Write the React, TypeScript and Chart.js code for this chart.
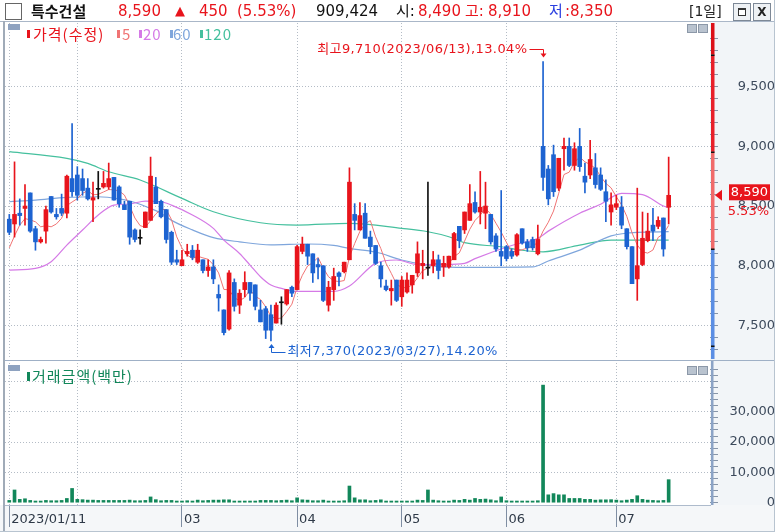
import React, { useEffect, useRef } from 'react';
import { Chart, registerables } from 'chart.js';

Chart.register(...registerables);

// ---------------- data ----------------
const stockName = '특수건설';
const lastPrice = '8,590';
const changeAbs = '450';
const changePct = '(5.53%)';
const volumeShares = '909,424';
const dayOpen = '8,490';
const dayHigh = '8,910';
const dayLow = '8,350';
const periodLabel = '[1일]';

const opens = [8390,8350,8440,8480,8610,8310,8200,8290,8580,8430,
8480,8440,8730,8760,8730,8650,8550,8640,8660,8660,
8740,8660,8510,8540,8300,8230,8320,8380,8660,8540,
8470,8280,8050,8000,8100,8130,8030,8050,7960,7990,
7760,7630,7470,7860,7670,7800,7860,7840,7630,7640,
7590,7520,7690,7680,7820,7800,8120,8180,8100,8010,
8000,7670,7800,7940,7950,8050,8430,8300,8440,8240,
8170,8000,7830,7790,7880,7740,7780,7840,7940,8000,
7980,8000,8050,7990,7990,8050,8330,8300,8380,8530,
8450,8440,8430,8250,8120,8160,8120,8090,8310,8200,
8220,8100,9000,8810,8930,8650,8980,9000,8840,9000,
8750,8760,8820,8760,8620,8450,8490,8490,8310,8160,
7890,8010,8210,8340,8330,8400,8490];

const highs = [8430,8870,8560,8680,8610,8330,8240,8500,8580,8480,
8600,8760,9190,8830,8810,8730,8700,8790,8790,8860,
8740,8670,8540,8540,8310,8300,8450,8910,8740,8550,
8470,8290,8130,8130,8180,8170,8180,8050,8050,8050,
7840,7630,7960,7890,7800,7950,7860,7840,7710,7660,
7670,7690,7740,7800,7830,8170,8240,8180,8100,8060,
8000,7870,7980,7950,8030,8820,8520,8530,8520,8290,
8170,8030,7880,7880,7880,7910,7940,7920,8200,8130,
8700,8120,8090,8080,8080,8280,8330,8450,8680,8620,
8790,8700,8430,8270,8630,8170,8140,8270,8310,8220,
8240,8340,9710,8840,9010,8900,9070,9070,9030,9150,
8860,9050,8940,8820,8720,8610,8590,8580,8310,8160,
8650,8450,8440,8480,8410,8400,8910];

const lows = [8260,8240,8340,8340,8280,8130,8190,8190,8440,8390,
8420,8400,8580,8550,8590,8550,8370,8560,8650,8640,
8550,8490,8470,8180,8200,8180,8320,8380,8520,8400,
8190,8010,8010,8000,8080,8050,8020,7940,7910,7850,
7620,7420,7460,7620,7600,7740,7710,7630,7530,7390,
7370,7520,7510,7670,7740,7800,8100,8010,7860,7890,
7700,7620,7710,7830,7940,8050,8300,8300,8230,8100,
8010,7820,7790,7670,7700,7660,7770,7770,7910,7890,
7920,7940,7890,7910,7980,8050,8150,8270,8380,8440,
8350,8310,8180,8120,8000,8040,8060,8080,8180,8120,
8130,8090,8630,8510,8580,8630,8800,8830,8800,8790,
8610,8730,8650,8630,8370,8340,8470,8310,8140,7850,
7710,8000,8200,8210,8310,8080,8350];

const closes = [8280,8430,8420,8500,8290,8200,8220,8470,8450,8410,
8440,8750,8620,8590,8630,8560,8570,8640,8690,8730,
8550,8520,8470,8240,8220,8230,8450,8750,8520,8410,
8220,8030,8030,8050,8120,8070,8130,7960,7990,7890,
7730,7440,7940,7660,7770,7860,7770,7660,7530,7460,
7460,7670,7690,7800,7770,8160,8180,8080,7940,7990,
7710,7820,7910,7910,8030,8700,8380,8420,8230,8160,
8020,7890,7800,7810,7710,7880,7880,7920,8100,8020,
7980,8050,7960,8020,8080,8270,8210,8450,8520,8450,
8490,8500,8200,8140,8080,8060,8080,8260,8190,8150,
8150,8220,8740,8560,8620,8900,9000,8840,8980,8830,
8700,8890,8680,8640,8540,8510,8520,8340,8160,7850,
8000,8230,8290,8290,8380,8140,8590];

// 거래금액 (백만)
const tradeValue = [750,4200,1100,1300,750,550,550,750,650,650,
750,1400,4700,1100,1000,850,850,750,750,750,
750,750,750,850,650,650,750,1900,1000,650,
750,750,550,550,650,550,850,650,750,850,
850,950,950,550,550,550,550,550,750,750,
750,650,750,850,650,1600,950,850,650,650,
850,550,550,550,650,5500,1600,950,950,650,
750,950,550,550,550,550,550,550,850,750,
4200,850,650,550,550,850,750,1100,850,1400,
1100,1200,950,650,1900,650,550,550,550,550,
550,650,38800,2600,3000,2600,2600,1400,1400,1400,
1100,1100,850,950,950,1000,850,650,850,1100,
2300,1100,850,750,650,750,7600];

// moving averages (index, value)
const ma5Head = [8150, 8250, 8340, 8395];
const ma20Idx = [0,5,8,11,14,17,20,23,26,29,31,35,39,41,44,46,48,50,52,55,62,65,70,74,78,83,87,89,96,101,103,109,113,117,121,125,126];
const ma20Val = [7964,7978,8034,8173,8299,8425,8508,8517,8542,8536,8508,8425,8313,8215,8103,8006,7908,7838,7810,7785,7785,7830,8020,8048,8010,8011,8020,8060,8170,8230,8290,8440,8515,8606,8595,8500,8485];
const ma60Idx = [0,5,11,17,21,24,27,29,31,35,39,44,50,57,62,65,70,75,78,82,87,100,103,109,115,120,126];
const ma60Val = [8536,8550,8572,8578,8560,8530,8480,8440,8380,8300,8235,8200,8175,8182,8170,8145,8115,8048,8020,7992,7986,7990,8040,8131,8250,8280,8285];
const ma120Idx = [0,11,15,19,25,33,39,48,55,65,75,80,84,87,94,98,102,109,115,126];
const ma120Val = [8955,8899,8857,8787,8718,8564,8452,8360,8341,8355,8313,8285,8243,8193,8159,8130,8117,8173,8215,8215];

const monthTickIdx = [0, 13, 33, 55, 75, 95, 116];
const monthTickLabels = ['2023/01/11', '', '03', '04', '05', '06', '07'];
const priceTickLabels = [7500, 8000, 8500, 9000, 9500];
const priceMinorStep = 100;
const volTickLabels = [0, 10000, 20000, 30000];
const volGridValues = [10000, 20000, 30000, 40000];
const volMinorStep = 2000;

const prevClose = 8140;
const limitSteps = [-0.1, 0, 0.1, 0.2];
const highIdx = 102;
const lowIdx = 50;
const highText = '최고9,710(2023/06/13),13.04%';
const lowText = '최저7,370(2023/03/27),14.20%';
const lastPctText = '5.53%';

// ---------------- style ----------------
const UP = '#e8141c';
const DOWN = '#1d63d1';
const FLAT = '#111111';
const C5 = '#f07474';
const C20 = '#d57ae6';
const C60 = '#7fa6dc';
const C120 = '#45c09e';
const VOL = '#12875a';
const GRID = '#b4bcc6';
const TICK = '#8795a8';
const LABEL = '#3d4a5c';
const TRANSP = 'rgba(0,0,0,0)';

const X_MIN = -0.82;
const X_MAX = 133.9;
const Y_MIN = 7219;
const Y_MAX = 10033;
const V_MIN = -760;
const V_MAX = 46100;
const PLOT_RIGHT = 710;
const LABEL_RIGHT = 768;
const TICK_LEN = 8;

const fmt = (n: number) => String(n).replace(/\B(?=(\d{3})+(?!\d))/g, ',');

function stepTicks(lo: number, hi: number, step: number) {
  const out: { value: number }[] = [];
  for (let v = Math.ceil(lo / step) * step; v <= hi; v += step) out.push({ value: v });
  return out;
}

function measure(text: string, font: string) {
  const c = document.createElement('canvas').getContext('2d') as CanvasRenderingContext2D;
  c.font = font;
  return c.measureText(text).width;
}

const pricePlugin = {
  id: 'priceDecor',
  afterDraw(chart: any) {
    const { ctx, chartArea } = chart;
    const xs = chart.scales.x;
    const ys = chart.scales.y;
    const py = (v: number) => ys.getPixelForValue(v);
    ctx.save();
    // colored axis bar
    const bx = chartArea.right + 1;
    const bw = 3.5;
    const edges = limitSteps.map((r) => prevClose * (1 + r));
    const segs: [number, number, string][] = [
      [chartArea.top, py(edges[3]), '#dc1018'],
      [py(edges[3]), py(edges[2]), '#e8202a'],
      [py(edges[2]), py(edges[1]), '#f06a6a'],
      [py(edges[1]), chartArea.bottom, '#5b8ee4'],
    ];
    segs.forEach(([a, b, c]) => {
      ctx.fillStyle = c;
      ctx.fillRect(bx, a, bw, b - a);
    });
    ctx.fillStyle = '#111';
    edges.forEach((v) => {
      const p = Math.round(py(v));
      ctx.fillRect(bx, p - 0.5, bw, 1.5);
    });

    // current price marker
    const last = closes.length - 1;
    const cy = py(closes[last]);
    const r = chartArea.right;
    ctx.fillStyle = UP;
    ctx.beginPath();
    ctx.moveTo(r + 5, cy);
    ctx.lineTo(r + 12, cy - 5.5);
    ctx.lineTo(r + 12, cy + 5.5);
    ctx.closePath();
    ctx.fill();
    ctx.fillRect(r + 19, cy - 11, 41, 16);
    ctx.font = '13px DejaVu Sans';
    ctx.textAlign = 'right';
    ctx.textBaseline = 'middle';
    ctx.fillStyle = '#ffffff';
    ctx.fillText(fmt(closes[last]), LABEL_RIGHT, cy - 3);
    ctx.fillStyle = UP;
    ctx.fillText(lastPctText, LABEL_RIGHT + 1, cy + 16);

    // high annotation
    const annFont = '13px DejaVu Sans, Noto Sans CJK KR, sans-serif';
    const hx = Math.round(xs.getPixelForValue(highIdx)) + 0.5;
    const hy = py(highs[highIdx]);
    ctx.font = annFont;
    try {
      (ctx as any).letterSpacing = '0.4px';
    } catch (e) {
      /* ignore */
    }
    ctx.fillStyle = UP;
    ctx.strokeStyle = UP;
    ctx.lineWidth = 1;
    ctx.textAlign = 'right';
    ctx.fillText(highText, hx - 16, hy - 12);
    const hl = Math.round(hy - 13) + 0.5;
    ctx.beginPath();
    ctx.moveTo(hx - 14, hl);
    ctx.lineTo(hx, hl);
    ctx.lineTo(hx, hy - 7);
    ctx.stroke();
    ctx.beginPath();
    ctx.moveTo(hx - 3, hy - 8);
    ctx.lineTo(hx + 3, hy - 8);
    ctx.lineTo(hx, hy - 4);
    ctx.closePath();
    ctx.fill();

    // low annotation
    const lx = Math.round(xs.getPixelForValue(lowIdx)) + 0.5;
    const ly = py(lows[lowIdx]);
    ctx.fillStyle = DOWN;
    ctx.strokeStyle = DOWN;
    ctx.textAlign = 'left';
    ctx.fillText(lowText, lx + 16, ly + 11);
    const ll = Math.round(ly + 11) + 0.5;
    ctx.beginPath();
    ctx.moveTo(lx, ly + 6);
    ctx.lineTo(lx, ll);
    ctx.lineTo(lx + 14, ll);
    ctx.stroke();
    ctx.beginPath();
    ctx.moveTo(lx - 3, ly + 7);
    ctx.lineTo(lx + 3, ly + 7);
    ctx.lineTo(lx, ly + 3);
    ctx.closePath();
    ctx.fill();
    ctx.restore();
  },
};

const volPlugin = {
  id: 'volDecor',
  afterDraw(chart: any) {
    const { ctx, chartArea } = chart;
    ctx.save();
    ctx.fillStyle = '#8ba3c6';
    ctx.fillRect(chartArea.right + 1, chartArea.top - 2, 2.5, chartArea.bottom - chartArea.top + 2);
    ctx.restore();
  },
};

function abs(left: number, top: number, width: number, height: number, background: string): React.CSSProperties {
  return { position: 'absolute', left, top, width, height, background };
}

export default function App() {
  const priceRef = useRef<HTMLCanvasElement>(null);
  const volRef = useRef<HTMLCanvasElement>(null);

  useEffect(() => {
    const axFont = { family: 'DejaVu Sans', size: 13 };
    const axFontStr = '13px DejaVu Sans';
    const priceW = measure(fmt(priceTickLabels[priceTickLabels.length - 1]), axFontStr);
    const volW = measure(fmt(volTickLabels[volTickLabels.length - 1]), axFontStr);
    const pricePad = LABEL_RIGHT - PLOT_RIGHT - TICK_LEN - priceW;
    const volPad = LABEL_RIGHT - PLOT_RIGHT - TICK_LEN - volW;

    const colors = closes.map((c, i) => (c > opens[i] ? UP : c < opens[i] ? DOWN : FLAT));
    const ma5 = closes.map((_, i) =>
      i < 4 ? ma5Head[i] : (closes[i] + closes[i - 1] + closes[i - 2] + closes[i - 3] + closes[i - 4]) / 5
    );
    const lineDs = (label: string, idx: number[], val: number[], color: string, order: number) => ({
      type: 'line' as const,
      label,
      data: idx.map((x, k) => ({ x, y: val[k] })),
      borderColor: color,
      borderWidth: 1.2,
      pointRadius: 0,
      fill: false,
      cubicInterpolationMode: 'monotone' as const,
      order,
    });

    const priceChart = new Chart(priceRef.current as HTMLCanvasElement, {
      type: 'bar',
      data: {
        datasets: [
          lineDs('MA120', ma120Idx, ma120Val, C120, 10),
          lineDs('MA60', ma60Idx, ma60Val, C60, 9),
          lineDs('MA20', ma20Idx, ma20Val, C20, 8),
          {
            type: 'line',
            label: 'MA5',
            data: ma5.map((y, x) => ({ x, y })),
            borderColor: C5,
            borderWidth: 1,
            pointRadius: 0,
            fill: false,
            tension: 0,
            order: 7,
          },
          {
            type: 'bar',
            label: 'wick',
            data: lows.map((l, i) => ({ x: i, y: [l, highs[i]] })),
            backgroundColor: colors,
            borderWidth: 0,
            barThickness: 1,
            grouped: false,
            order: 2,
          },
          {
            type: 'bar',
            label: 'body',
            data: opens.map((o, i) => ({ x: i, y: [o, closes[i]] })),
            backgroundColor: colors,
            borderWidth: 0,
            barThickness: 4,
            minBarLength: 1,
            grouped: false,
            order: 1,
          },
        ] as any,
      },
      options: {
        responsive: false,
        animation: false,
        devicePixelRatio: 1,
        events: [],
        layout: { padding: { left: 5, top: 1, right: 0, bottom: 2 } },
        plugins: { legend: { display: false }, tooltip: { enabled: false } },
        scales: {
          x: {
            type: 'linear',
            min: X_MIN,
            max: X_MAX,
            offset: false,
            grid: { offset: false, color: GRID, drawTicks: false, lineWidth: 1 },
            border: { display: false, dash: [1, 2] },
            ticks: { display: false },
            afterBuildTicks: (s: any) => {
              s.ticks = monthTickIdx.map((v) => ({ value: v }));
            },
            afterFit: (s: any) => {
              s.height = 0;
              s.paddingLeft = 0;
              s.paddingRight = 0;
            },
          },
          y: {
            type: 'linear',
            position: 'right',
            min: Y_MIN,
            max: Y_MAX,
            beginAtZero: false,
            grid: {
              color: (c: any) => (c.tick && priceTickLabels.includes(c.tick.value) ? GRID : TRANSP),
              tickColor: TICK,
              tickLength: TICK_LEN,
              drawTicks: true,
            },
            border: { display: false, dash: [1, 2] },
            ticks: {
              autoSkip: false,
              crossAlign: 'far',
              padding: pricePad,
              color: LABEL,
              font: axFont,
              callback: (v: any) => (priceTickLabels.includes(v) ? fmt(v) : ''),
            },
            afterBuildTicks: (s: any) => {
              s.ticks = stepTicks(Y_MIN, Y_MAX - 50, priceMinorStep);
            },
            afterFit: (s: any) => {
              s.width = 775 - PLOT_RIGHT;
              s.paddingTop = 0;
              s.paddingBottom = 0;
            },
          },
        } as any,
      },
      plugins: [pricePlugin],
    });

    const volChart = new Chart(volRef.current as HTMLCanvasElement, {
      type: 'bar',
      data: {
        datasets: [
          {
            label: '거래금액(백만)',
            data: tradeValue.map((v, i) => ({ x: i, y: v })),
            backgroundColor: VOL,
            borderWidth: 0,
            barThickness: 3,
            grouped: false,
          },
        ] as any,
      },
      options: {
        responsive: false,
        animation: false,
        devicePixelRatio: 1,
        events: [],
        layout: { padding: { left: 5, top: 2, right: 0, bottom: 0 } },
        plugins: { legend: { display: false }, tooltip: { enabled: false } },
        scales: {
          x: {
            type: 'linear',
            min: X_MIN,
            max: X_MAX,
            offset: false,
            grid: {
              offset: false,
              color: GRID,
              drawTicks: true,
              tickLength: 22,
              tickColor: (c: any) => (monthTickLabels[c.index] ? '#7f8ea3' : TRANSP),
            },
            border: { display: false, dash: [1, 2] },
            ticks: {
              autoSkip: false,
              maxRotation: 0,
              align: 'start',
              labelOffset: 2,
              padding: -15,
              color: '#2f3a48',
              font: axFont,
              callback: (_v: any, i: number) => monthTickLabels[i],
            },
            afterBuildTicks: (s: any) => {
              s.ticks = monthTickIdx.map((v) => ({ value: v }));
            },
            afterFit: (s: any) => {
              s.height = 27;
              s.paddingLeft = 0;
              s.paddingRight = 0;
            },
          },
          y: {
            type: 'linear',
            position: 'right',
            min: V_MIN,
            max: V_MAX,
            beginAtZero: false,
            grid: {
              color: (c: any) => (c.tick && volGridValues.includes(c.tick.value) ? GRID : TRANSP),
              tickColor: TICK,
              tickLength: TICK_LEN,
            },
            border: { display: false, dash: [1, 2] },
            ticks: {
              autoSkip: false,
              crossAlign: 'far',
              padding: volPad,
              color: LABEL,
              font: axFont,
              callback: (v: any) => (volTickLabels.includes(v) ? fmt(v) : ''),
            },
            afterBuildTicks: (s: any) => {
              s.ticks = stepTicks(0, V_MAX - 500, volMinorStep);
            },
            afterFit: (s: any) => {
              s.width = 775 - PLOT_RIGHT;
              s.paddingTop = 0;
              s.paddingBottom = 0;
            },
          },
        } as any,
      },
      plugins: [volPlugin],
    });

    return () => {
      priceChart.destroy();
      volChart.destroy();
    };
  }, []);

  const hs = (left: number, color: string, extra: React.CSSProperties = {}): React.CSSProperties => ({
    position: 'absolute',
    left,
    top: 0,
    lineHeight: '22px',
    fontSize: 15,
    color,
    whiteSpace: 'nowrap',
    ...extra,
  });
  const legendText = (left: number, top: number, color: string): React.CSSProperties => ({
    position: 'absolute',
    left,
    top,
    lineHeight: '16px',
    fontSize: 15,
    color,
    whiteSpace: 'nowrap',
    fontFamily: '"Noto Sans CJK KR", sans-serif',
    letterSpacing: 1,
  });
  const smallBtn = (left: number, top: number): React.CSSProperties => ({
    position: 'absolute',
    left,
    top,
    width: 8,
    height: 7,
    background: '#b9c3cf',
    border: '1px solid #8c98a8',
  });

  return (
    <div
      style={{
        position: 'absolute',
        left: 0,
        top: 0,
        width: 775,
        height: 532,
        overflow: 'hidden',
        background: '#ffffff',
        fontFamily: '"DejaVu Sans", "Noto Sans CJK KR", sans-serif',
      }}
    >
      {/* backgrounds */}
      <div style={abs(PLOT_RIGHT, 22, 65, 339, '#f2f5f8')} />
      <div style={abs(PLOT_RIGHT, 361, 65, 144, '#f2f5f8')} />
      <div style={abs(0, 505, 775, 27, '#f5f7f9')} />

      {/* charts */}
      <div style={{ position: 'absolute', left: 0, top: 22 }}>
        <canvas ref={priceRef} width={775} height={339} style={{ display: 'block' }} />
      </div>
      <div style={{ position: 'absolute', left: 0, top: 361 }}>
        <canvas ref={volRef} width={775} height={171} style={{ display: 'block' }} />
      </div>

      {/* frame lines */}
      <div style={abs(0, 21, 775, 1, '#aab7c8')} />
      <div style={abs(3, 360, 772, 1, '#9fb0c6')} />
      <div style={abs(5, 505, 706, 1, '#aebbcc')} />
      <div style={abs(3, 21, 2, 511, '#a0abb8')} />
      <div style={abs(774, 0, 1, 532, '#b8c4d0')} />
      <div style={abs(0, 531, 775, 1, '#b8c4d0')} />

      {/* header */}
      <div style={{ position: 'absolute', left: 5, top: 3, width: 15, height: 15, border: '1px solid #666', background: '#fff' }} />
      <span style={hs(31, '#111', { fontFamily: '"Noto Sans CJK KR", sans-serif', fontWeight: 700, fontSize: 15 })}>{stockName}</span>
      <span style={hs(118, UP)}>{lastPrice}</span>
      <span style={hs(175, UP, { fontSize: 13 })}>▲</span>
      <span style={hs(199, UP)}>{changeAbs}</span>
      <span style={hs(237, UP)}>{changePct}</span>
      <span style={hs(316, '#111')}>{volumeShares}</span>
      <span style={hs(396, '#111')}>시:</span>
      <span style={hs(418, UP)}>{dayOpen}</span>
      <span style={hs(465, UP)}>고:</span>
      <span style={hs(488, UP)}>{dayHigh}</span>
      <span style={hs(549, '#2a3fe0')}>저</span>
      <span style={hs(565, UP)}>:{dayLow}</span>
      <span style={hs(689, '#222', { fontSize: 14 })}>{periodLabel}</span>
      <div style={{ position: 'absolute', left: 733, top: 3, width: 16, height: 16, border: '1px solid #7d8896', background: '#eef1f4' }}>
        <div style={{ position: 'absolute', left: 4, top: 4, width: 6, height: 5, border: '1px solid #333', borderTopWidth: 2, background: '#fff' }} />
      </div>
      <div
        style={{
          position: 'absolute',
          left: 753,
          top: 3,
          width: 16,
          height: 16,
          border: '1px solid #7d8896',
          background: '#eef1f4',
          fontSize: 12,
          fontWeight: 'bold',
          lineHeight: '16px',
          textAlign: 'center',
          color: '#222',
        }}
      >
        X
      </div>

      {/* price panel legend */}
      <div style={abs(8, 24, 12, 6, '#8ea2c0')} />
      <div style={abs(27, 30, 3, 8, UP)} />
      <span style={legendText(33, 26, UP)}>가격(수정)</span>
      <div style={abs(117, 30, 3, 8, C5)} />
      <span style={legendText(122, 26, C5)}>5</span>
      <div style={abs(139, 30, 3, 8, C20)} />
      <span style={legendText(143, 26, C20)}>20</span>
      <div style={abs(170, 30, 3, 8, C60)} />
      <span style={legendText(173, 26, C60)}>60</span>
      <div style={abs(200, 30, 3, 8, C120)} />
      <span style={legendText(204, 26, C120)}>120</span>
      <div style={smallBtn(687, 24)} />
      <div style={smallBtn(698, 24)} />

      {/* volume panel legend */}
      <div style={abs(8, 365, 12, 6, '#8ea2c0')} />
      <div style={abs(27, 372, 3, 9, VOL)} />
      <span style={legendText(32, 368, VOL)}>거래금액(백만)</span>
      <div style={smallBtn(687, 366)} />
      <div style={smallBtn(698, 366)} />
    </div>
  );
}
